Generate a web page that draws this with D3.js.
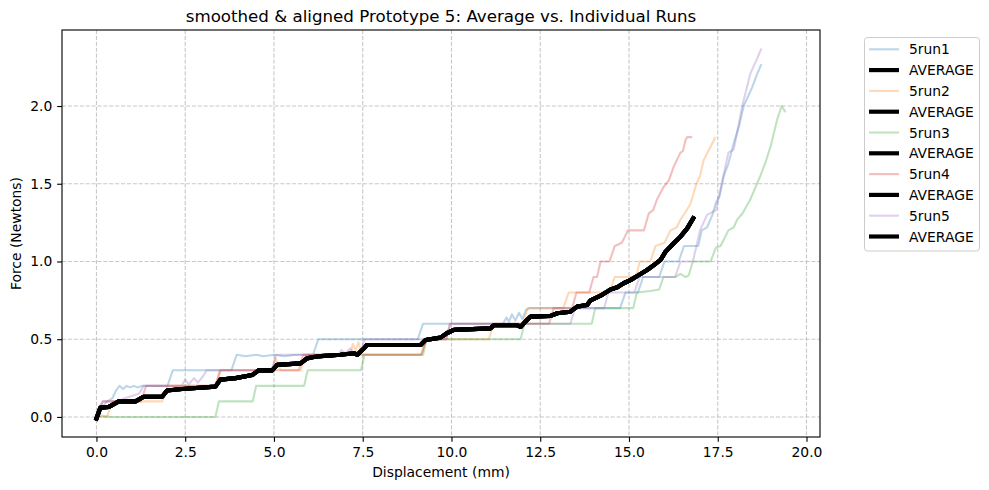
<!DOCTYPE html>
<html>
<head>
<meta charset="utf-8">
<script src="https://cdn.jsdelivr.net/npm/d3@7"></script>
<style>
  html, body { margin: 0; padding: 0; background: #ffffff; }
  svg { display: block; font-family: "DejaVu Sans", sans-serif; }
</style>
</head>
<body>
<svg id="chart" width="989" height="490"></svg>
<script>
// ---------------- DATA ----------------
const titleText = "smoothed & aligned Prototype 5: Average vs. Individual Runs";
const xLabelText = "Displacement (mm)";
const yLabelText = "Force (Newtons)";
const xTicks = [0, 2.5, 5, 7.5, 10, 12.5, 15, 17.5, 20];
const yTicks = [0, 0.5, 1.0, 1.5, 2.0];
const runNames = ["5run1", "5run2", "5run3", "5run4", "5run5"];
const averageName = "AVERAGE";

const run1 = [[0,0],[0.1,0.05],[0.3,0.1],[0.45,0.12],[0.55,0.17],[0.65,0.2],[0.75,0.18],[0.85,0.2],[0.95,0.19],[1.05,0.2],[1.15,0.19],[1.3,0.2],[2.0,0.2],[2.15,0.3],[3.8,0.3],[3.95,0.4],[4.2,0.39],[4.5,0.4],[4.7,0.39],[5.0,0.4],[5.3,0.39],[5.6,0.4],[6.1,0.4],[6.25,0.5],[9.05,0.5],[9.2,0.6],[11.45,0.6],[11.55,0.64],[11.62,0.61],[11.7,0.66],[11.8,0.62],[11.9,0.67],[12.0,0.63],[12.1,0.69],[12.2,0.7],[14.75,0.7],[14.9,0.8],[15.25,0.8],[15.4,0.9],[15.85,0.9],[16.0,1.0],[16.4,1.0],[16.55,1.1],[16.95,1.1],[17.05,1.2],[17.2,1.22],[17.35,1.3],[17.45,1.38],[17.55,1.42],[17.67,1.55],[17.8,1.63],[17.95,1.76],[18.1,1.87],[18.23,2.0],[18.35,2.06],[18.47,2.12],[18.6,2.2],[18.73,2.27]];
const run2 = [[0,0],[0.3,0],[0.45,0.1],[1.85,0.1],[2.0,0.2],[3.35,0.2],[3.5,0.3],[4.95,0.3],[5.05,0.38],[5.12,0.33],[5.2,0.3],[5.75,0.3],[5.9,0.4],[7.15,0.4],[7.22,0.47],[7.3,0.43],[7.38,0.48],[7.45,0.42],[7.5,0.4],[9.15,0.4],[9.3,0.5],[11.05,0.5],[11.2,0.6],[12.0,0.6],[12.15,0.7],[13.15,0.7],[13.3,0.8],[14.45,0.8],[14.6,0.9],[15.2,0.9],[15.3,1.0],[15.6,1.0],[15.75,1.1],[16.0,1.12],[16.17,1.2],[16.35,1.22],[16.45,1.27],[16.6,1.32],[16.73,1.37],[16.9,1.5],[17.0,1.55],[17.1,1.65],[17.3,1.74],[17.44,1.8]];
const run3 = [[0,0],[0.1,0.01],[0.4,0],[3.35,0],[3.45,0.1],[4.4,0.1],[4.5,0.2],[5.85,0.2],[5.95,0.3],[7.45,0.3],[7.55,0.4],[9.2,0.4],[9.3,0.5],[11.95,0.5],[12.05,0.6],[13.95,0.6],[14.05,0.7],[15.12,0.7],[15.22,0.8],[15.6,0.81],[15.85,0.82],[15.97,0.9],[16.3,0.9],[16.45,0.92],[16.6,0.9],[16.68,0.91],[16.8,1.0],[17.3,1.0],[17.45,1.09],[17.58,1.1],[17.8,1.2],[17.95,1.22],[18.05,1.27],[18.2,1.31],[18.42,1.4],[18.55,1.47],[18.7,1.55],[18.85,1.64],[18.99,1.74],[19.17,1.91],[19.3,2.0],[19.41,1.96]];
const run4 = [[0,0],[0.1,0.06],[0.18,0.1],[1.25,0.1],[1.4,0.2],[3.35,0.2],[3.48,0.3],[5.7,0.3],[5.82,0.4],[9.15,0.4],[9.28,0.5],[9.85,0.5],[9.97,0.6],[12.75,0.6],[12.88,0.7],[13.4,0.7],[13.52,0.8],[13.88,0.8],[14.0,0.9],[14.1,0.9],[14.2,1.0],[14.45,1.0],[14.6,1.1],[14.8,1.12],[14.97,1.2],[15.42,1.2],[15.56,1.31],[15.68,1.33],[15.79,1.4],[15.98,1.48],[16.12,1.52],[16.26,1.61],[16.45,1.7],[16.52,1.71],[16.59,1.78],[16.64,1.8],[16.78,1.8]];
const run5 = [[0,0],[0.1,0.07],[0.18,0.1],[0.6,0.1],[0.8,0.12],[1.2,0.15],[1.33,0.2],[2.4,0.2],[2.5,0.24],[2.6,0.21],[2.75,0.25],[2.85,0.22],[3.0,0.26],[3.1,0.3],[4.95,0.3],[5.05,0.4],[6.8,0.4],[6.9,0.43],[7.0,0.41],[7.15,0.44],[7.25,0.41],[7.45,0.42],[7.55,0.5],[9.85,0.5],[9.95,0.6],[13.35,0.6],[13.48,0.7],[14.3,0.7],[14.42,0.8],[15.15,0.8],[15.3,0.9],[16.3,0.9],[16.45,1.0],[16.8,1.0],[16.9,1.1],[17.0,1.2],[17.2,1.3],[17.45,1.33],[17.63,1.52],[17.8,1.7],[17.95,1.72],[18.19,2.0],[18.42,2.21],[18.6,2.3],[18.73,2.37]];
const average = [[0,-0.01],[0.11,0.06],[0.35,0.065],[0.63,0.10],[1.1,0.10],[1.33,0.13],[1.85,0.13],[1.99,0.17],[2.41,0.18],[3.35,0.195],[3.49,0.24],[3.92,0.25],[4.39,0.27],[4.57,0.30],[4.95,0.30],[5.09,0.335],[5.75,0.345],[5.93,0.377],[6.22,0.39],[6.87,0.40],[7.25,0.41],[7.35,0.40],[7.53,0.44],[7.62,0.463],[9.13,0.463],[9.27,0.495],[9.69,0.51],[9.88,0.54],[10.07,0.56],[11.1,0.57],[11.19,0.59],[11.85,0.59],[11.95,0.58],[12.13,0.625],[12.23,0.645],[12.79,0.65],[12.98,0.667],[13.35,0.677],[13.54,0.71],[13.82,0.72],[13.92,0.75],[14.2,0.78],[14.48,0.82],[14.67,0.834],[14.85,0.86],[15.04,0.88],[15.28,0.913],[15.51,0.945],[15.7,0.977],[15.89,1.01],[16.03,1.063],[16.26,1.117],[16.45,1.16],[16.64,1.213],[16.81,1.278]];

const runs = [run1, run2, run3, run4, run5];
const runColors = ["#1f77b4", "#ff7f0e", "#2ca02c", "#d62728", "#9467bd"];

// ---------------- LAYOUT ----------------
const svg = d3.select("#chart");
const plot = { left: 62, right: 820, top: 30, bottom: 437 };
const PT = 100 / 72;

// domain with matplotlib-like 5% margins
const allPts = runs.concat([average]).flat();
const xExt = d3.extent(allPts, d => d[0]);
const yExt = d3.extent(allPts, d => d[1]);
const xm = (xExt[1] - xExt[0]) * 0.05, ym = (yExt[1] - yExt[0]) * 0.05;

const x = d3.scaleLinear().domain([xExt[0] - xm, xExt[1] + xm]).range([plot.left, plot.right]);
const y = d3.scaleLinear().domain([yExt[0] - ym, yExt[1] + ym]).range([plot.bottom, plot.top]);

// clip
svg.append("defs").append("clipPath").attr("id", "clip")
  .append("rect").attr("x", plot.left).attr("y", plot.top)
  .attr("width", plot.right - plot.left).attr("height", plot.bottom - plot.top);

// grid
const grid = svg.append("g").attr("stroke", "#b0b0b0").attr("stroke-opacity", 0.7)
  .attr("stroke-width", 0.8 * PT).attr("stroke-dasharray", "4.1,1.8");
xTicks.forEach(t => grid.append("line")
  .attr("x1", x(t)).attr("x2", x(t)).attr("y1", plot.top).attr("y2", plot.bottom));
yTicks.forEach(t => grid.append("line")
  .attr("x1", plot.left).attr("x2", plot.right).attr("y1", y(t)).attr("y2", y(t)));

// lines
const line = d3.line().x(d => x(d[0])).y(d => y(d[1]));
const lines = svg.append("g").attr("clip-path", "url(#clip)");
runs.forEach((r, i) => {
  lines.append("path").attr("d", line(r)).attr("fill", "none")
    .attr("stroke", runColors[i]).attr("stroke-opacity", 0.3)
    .attr("stroke-width", 1.5 * PT).attr("stroke-linejoin", "round");
  lines.append("path").attr("d", line(average)).attr("fill", "none")
    .attr("stroke", "#000").attr("stroke-width", 3 * PT)
    .attr("stroke-linejoin", "round").attr("stroke-linecap", "square");
});

// axes
const xAxis = d3.axisBottom(x).tickValues(xTicks).tickFormat(d3.format(".1f")).tickSize(3.5 * PT).tickPadding(3.5 * PT);
const yAxis = d3.axisLeft(y).tickValues(yTicks).tickFormat(d3.format(".1f")).tickSize(3.5 * PT).tickPadding(3.5 * PT);
const gx = svg.append("g").attr("transform", `translate(0,${plot.bottom})`).call(xAxis);
const gy = svg.append("g").attr("transform", `translate(${plot.left},0)`).call(yAxis);
[gx, gy].forEach(g => {
  g.select(".domain").remove();
  g.selectAll(".tick line").attr("stroke", "#000").attr("stroke-width", 0.8 * PT);
  g.selectAll(".tick text").attr("fill", "#000").style("font-size", (10 * PT) + "px")
    .style("font-family", "DejaVu Sans");
});
gx.selectAll(".tick text").attr("dy", "0.76em");

// frame
svg.append("rect").attr("x", plot.left).attr("y", plot.top)
  .attr("width", plot.right - plot.left).attr("height", plot.bottom - plot.top)
  .attr("fill", "none").attr("stroke", "#000").attr("stroke-width", 0.8 * PT);

// title & labels
svg.append("text").attr("x", (plot.left + plot.right) / 2).attr("y", 22)
  .attr("text-anchor", "middle").style("font-size", (12 * PT) + "px").text(titleText);
svg.append("text").attr("x", (plot.left + plot.right) / 2).attr("y", 477)
  .attr("text-anchor", "middle").style("font-size", (10 * PT) + "px").text(xLabelText);
svg.append("text").attr("transform", `translate(21,${(plot.top + plot.bottom) / 2}) rotate(-90)`)
  .attr("text-anchor", "middle").style("font-size", (10 * PT) + "px").text(yLabelText);

// legend
const legendItems = [];
runNames.forEach((n, i) => {
  legendItems.push({ name: n, color: runColors[i], opacity: 0.3, width: 1.5 * PT });
  legendItems.push({ name: averageName, color: "#000", opacity: 1, width: 3 * PT });
});
const lg = svg.append("g");
lg.append("rect").attr("x", 864.5).attr("y", 37.5).attr("width", 115).attr("height", 213.5)
  .attr("rx", 3).attr("fill", "#fff").attr("fill-opacity", 0.8)
  .attr("stroke", "#cccccc").attr("stroke-width", 1);
legendItems.forEach((it, i) => {
  const cy = 49.3 + i * 20.8;
  lg.append("line").attr("x1", 869).attr("x2", 899).attr("y1", cy).attr("y2", cy)
    .attr("stroke", it.color).attr("stroke-opacity", it.opacity).attr("stroke-width", it.width);
  lg.append("text").attr("x", 909).attr("y", cy).attr("dy", "0.36em")
    .style("font-size", (10 * PT) + "px").text(it.name);
});
</script>
</body>
</html>
